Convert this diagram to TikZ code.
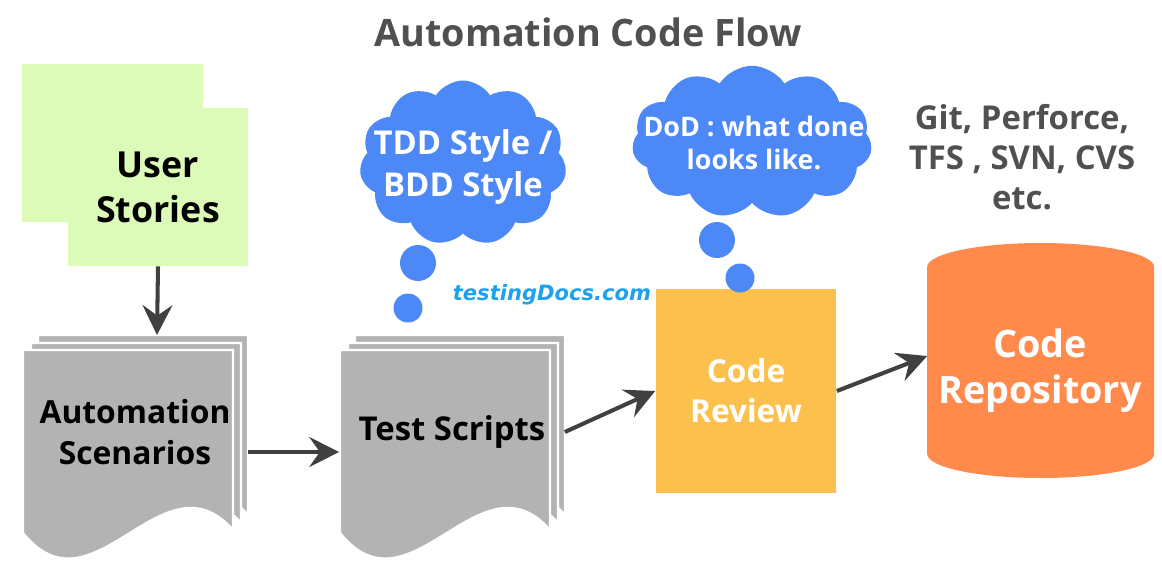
\documentclass[tikz,border=0pt]{standalone}
\usepackage{fontspec}
\setmainfont{Open Sans}
\newfontfamily\markfont{DejaVu Sans}
\usetikzlibrary{shapes.geometric,shapes.symbols,arrows.meta,calc,positioning}
\definecolor{storygreen}{RGB}{221,251,184}
\definecolor{pagegray}{RGB}{179,179,179}
\definecolor{cloudblue}{RGB}{77,136,247}
\definecolor{reviewyellow}{RGB}{252,193,76}
\definecolor{repoorange}{RGB}{255,138,76}
\definecolor{arrowgray}{RGB}{64,64,64}
\definecolor{titlegray}{RGB}{80,80,80}
\definecolor{markblue}{RGB}{29,161,242}
\tikzset{
  flow/.style={draw=arrowgray, line width=2.3pt,
    -{Stealth[length=17pt,width=17pt,inset=6pt]}},
  page/.style={fill=pagegray, draw=white, line width=1.3pt},
  pages/.pic={
    \path[page] (15,-15) -- (225,-15) -- (225,165)
      .. controls (155,85) and (85,255) .. (15,168) -- cycle;
    \path[page] (8,-7) -- (218,-7) -- (218,173)
      .. controls (148,93) and (78,263) .. (8,176) -- cycle;
    \path[page] (0,0) -- (210,0) -- (210,180)
      .. controls (140,100) and (70,270) .. (0,183) -- cycle;
  },
  stack/.style={minimum width=4.5cm, minimum height=3.9cm, align=center,
    font=\bfseries, text=black, inner sep=0pt},
  story/.style={fill=storygreen, minimum width=3.6cm, minimum height=3.16cm,
    align=center, font=\bfseries\fontsize{20.4pt}{25.5pt}\selectfont},
  thought/.style={cloud, cloud puffs=11, cloud puff arc=115, fill=cloudblue,
    inner sep=0pt},
  bubble/.style={circle, fill=cloudblue, inner sep=0pt},
  cloudtext/.style={text=white, align=center, inner sep=0pt},
  review/.style={fill=reviewyellow, minimum width=3.62cm, minimum height=4.08cm,
    text=white, align=center, font=\bfseries\fontsize{18pt}{22.7pt}\selectfont},
  repo/.style={minimum width=4.54cm, minimum height=4.7cm, inner sep=0pt},
  repotext/.style={text=white, align=center, inner sep=0pt,
    font=\bfseries\fontsize{21.5pt}{26pt}\selectfont},
  note/.style={text=titlegray, align=center,
    font=\bfseries\fontsize{18.7pt}{22.7pt}\selectfont}
}
\begin{document}
\begin{tikzpicture}[x=0.02cm,y=-0.02cm]
  \useasboundingbox (0,0) rectangle (1162,569);
  \node (title) at (588,32) [text=titlegray,
    font=\bfseries\fontsize{21.5pt}{26pt}\selectfont] {Automation Code Flow};
  % user stories
  \fill[storygreen] (22,64) rectangle (203,222);
  \node (stories) at (158,187) [story] {User\\Stories};
  % document stacks
  \pic at (23,350) {pages};
  \pic at (340,350) {pages};
  \node (scen) at (135,432) [stack, font=\bfseries\fontsize{18.1pt}{23.8pt}\selectfont]
    {Automation\\Scenarios};
  \node (tests) at (452,432) [stack, font=\bfseries\fontsize{18.7pt}{23pt}\selectfont]
    {Test Scripts};
  % review and repository
  \node (review) at (746,391) [review] {Code\\Review};
  \node (repo) at (1041,360) [repo] {};
  \fill[repoorange] (repo.west) ++(0,-93) -- ++(0,187)
    arc[start angle=180, end angle=360, x radius=2.27cm, y radius=0.48cm]
    -- ++(0,-187)
    arc[start angle=0, end angle=180, x radius=2.27cm, y radius=0.48cm] -- cycle;
  \node (repotext) at (1040,371) [repotext] {Code\\Repository};
  \node (vcs) at (1022,157) [note] {Git, Perforce,\\TFS , SVN, CVS\\etc.};
  % thought clouds
  \node (tdd) at (463,163) [thought, minimum width=4.14cm, minimum height=3.3cm] {};
  \node (tddtext) at (463,167) [cloudtext,
    font=\bfseries\fontsize{18.7pt}{23.8pt}\selectfont] {TDD Style /\\BDD Style};
  \node (tddbig) at (418,263) [bubble, minimum size=0.72cm] {};
  \node (tddsmall) at (408,308) [bubble, minimum size=0.58cm] {};
  \node (dod) at (752,142) [thought, minimum width=4.8cm, minimum height=3.05cm] {};
  \node (dodtext) at (754,143) [cloudtext,
    font=\bfseries\fontsize{15.3pt}{18.7pt}\selectfont] {DoD : what done\\looks like.};
  \node (dodbig) at (717,240) [bubble, minimum size=0.72cm] {};
  \node (dodsmall) at (740,278) [bubble, minimum size=0.58cm] {};
  \node (site) at (552,295) [text=markblue,
    font=\markfont\bfseries\itshape\fontsize{12pt}{14pt}\selectfont] {testingDocs.com};
  % connectors
  \draw[flow] (stories.south) -- (157,335);
  \draw[flow] ($(scen.east)+(0,20)$) -- ($(tests.west)+(0,20)$);
  \draw[flow] (tests.east) -- (review.west);
  \draw[flow] (review.east) -- ($(repo.west)+(0,-4)$);
\end{tikzpicture}
\end{document}
